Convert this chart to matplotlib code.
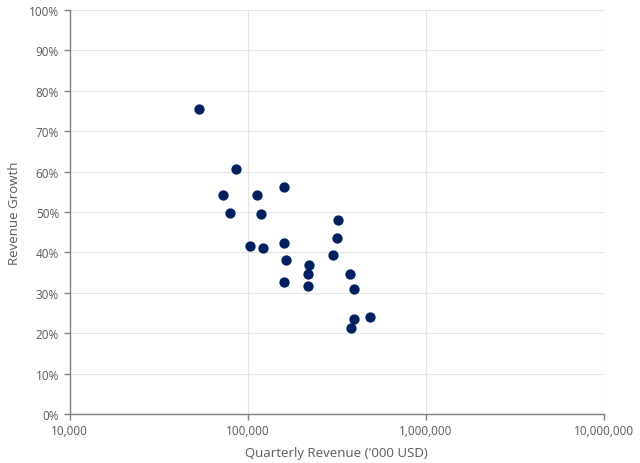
import matplotlib
matplotlib.use("Agg")
import matplotlib.pyplot as plt
from matplotlib.ticker import FuncFormatter, FixedLocator, NullLocator

revenue = [53300, 85650, 72700, 112300, 160500, 79300, 118700, 321000, 317000,
           102600, 121400, 159900, 300000, 164000, 220000, 217000, 375000,
           160500, 217000, 395000, 396000, 486000, 380000]
growth = [75.5, 60.6, 54.2, 54.2, 56.3, 49.8, 49.5, 48.0, 43.5,
          41.7, 41.2, 42.3, 39.3, 38.1, 36.9, 34.6, 34.6,
          32.7, 31.7, 31.0, 23.6, 24.0, 21.3]
x_ticks = [10000, 100000, 1000000, 10000000]
y_ticks = [0, 10, 20, 30, 40, 50, 60, 70, 80, 90, 100]

plt.rcParams['font.family'] = ['Open Sans', 'DejaVu Sans']
txt = '#595959'

fig = plt.figure(figsize=(6.4, 4.64), dpi=100)
ax = fig.add_axes([0.1086, 0.1056, 0.8352, 0.8707])
ax.scatter(revenue, [g / 100 for g in growth], s=55, color='#002060', zorder=3, linewidths=0)
ax.set_xscale('log')
ax.set_xlim(10000, 10000000)
ax.set_ylim(0, 1.0)
ax.xaxis.set_major_locator(FixedLocator(x_ticks))
ax.xaxis.set_minor_locator(NullLocator())
ax.set_yticks([v / 100 for v in y_ticks])
ax.xaxis.set_major_formatter(FuncFormatter(lambda v, p: f"{int(round(v)):,}"))
ax.yaxis.set_major_formatter(FuncFormatter(lambda v, p: f"{int(round(v*100))}%"))
ax.grid(True, color='#e4e4e4', linewidth=0.8, zorder=0)
ax.set_axisbelow(True)
for s in ['top', 'right']:
    ax.spines[s].set_visible(False)
for s in ['left', 'bottom']:
    ax.spines[s].set_color('#7f7f7f')
    ax.spines[s].set_linewidth(1.0)
ax.tick_params(axis='both', colors='#7f7f7f', labelcolor=txt, labelsize=8.5, length=4, width=1)
ax.set_xlabel("Quarterly Revenue ('000 USD)", color=txt, fontsize=9.5, labelpad=6)
ax.set_ylabel("Revenue Growth", color=txt, fontsize=9.5, labelpad=6)
fig.savefig('out.png', dpi=100)
